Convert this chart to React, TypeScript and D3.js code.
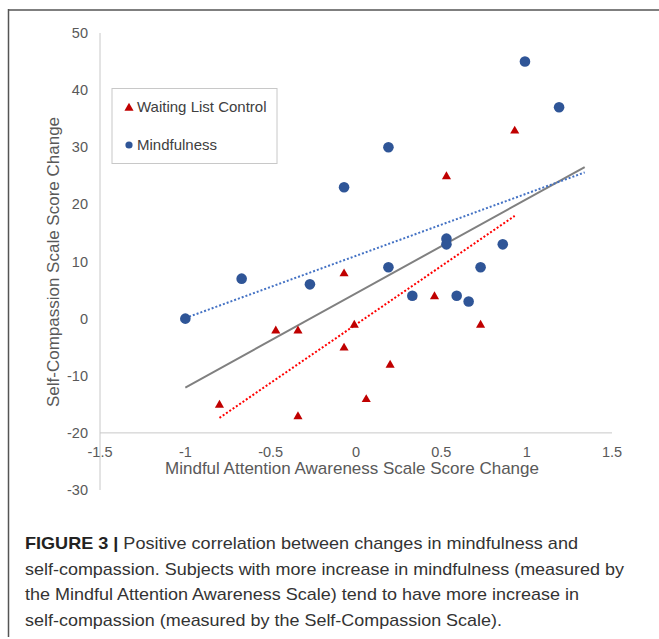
import React from "react";
import * as d3 from "d3";

// Waiting List Control (red triangles)
const controlX = [-0.8, -0.47, -0.34, -0.34, -0.07, -0.07, -0.01, 0.06, 0.2, 0.33, 0.46, 0.73, 0.53, 0.93];
const controlY = [-15, -2, -2, -17, 8, -5, -1, -14, -8, 4, 4, -1, 25, 33];

// Mindfulness (blue circles)
const mindX = [-1.0, -0.67, -0.27, -0.07, 0.19, 0.19, 0.33, 0.53, 0.53, 0.59, 0.66, 0.73, 0.86, 0.99, 1.19];
const mindY = [0, 7, 6, 23, 30, 9, 4, 14, 13, 4, 3, 9, 13, 45, 37];

const xTicks = [-1.5, -1, -0.5, 0, 0.5, 1, 1.5];
const yTicks = [50, 40, 30, 20, 10, 0, -10, -20, -30];

const legendLabels = ["Waiting List Control", "Mindfulness"];
const xTitle = "Mindful Attention Awareness Scale Score Change";
const yTitle = "Self-Compassion Scale Score Change";
const captionBold = "FIGURE 3 |";
const captionLines = [
  " Positive correlation between changes in mindfulness and",
  "self-compassion. Subjects with more increase in mindfulness (measured by",
  "the Mindful Attention Awareness Scale) tend to have more increase in",
  "self-compassion (measured by the Self-Compassion Scale).",
];

function regress(xs: number[], ys: number[]) {
  const mx = d3.mean(xs) as number;
  const my = d3.mean(ys) as number;
  let sxy = 0, sxx = 0;
  xs.forEach((x, i) => {
    sxy += (x - mx) * (ys[i] - my);
    sxx += (x - mx) * (x - mx);
  });
  const slope = sxy / sxx;
  return { slope, intercept: my - slope * mx };
}

export default function App() {
  const W = 659, H = 639;
  const x = d3.scaleLinear().domain([-1.5, 1.5]).range([100, 612]);
  const y = d3.scaleLinear().domain([-30, 50]).range([490, 33]);
  const font = "'Liberation Sans', Arial, Helvetica, sans-serif";
  const tickColor = "#595959";

  const allX = [...controlX, ...mindX];
  const allY = [...controlY, ...mindY];
  const forward = 0.15;

  const trend = (xs: number[], ys: number[], fwd: number) => {
    const r = regress(xs, ys);
    const x0 = d3.min(xs) as number;
    const x1 = (d3.max(xs) as number) + fwd;
    return d3.line<number>()
      .x((v) => x(v))
      .y((v) => y(r.intercept + r.slope * v))([x0, x1]) as string;
  };

  const tri = d3.symbol().type(d3.symbolTriangle).size(36)() as string;

  const captionWidths = [553, 599, 554, 477];

  return (
    <div style={{ position: "fixed", left: 0, top: 0 }}>
      <svg width={W} height={H} style={{ display: "block", background: "#fff" }}>
        {/* frame */}
        <line x1={8} x2={W} y1={10} y2={10} stroke="#555" strokeWidth={1.5} />
        <line x1={8.5} x2={8.5} y1={9} y2={637} stroke="#555" strokeWidth={1.5} />

        {/* axes */}
        <line x1={x(-1.5)} x2={x(-1.5)} y1={y(50)} y2={y(-30)} stroke="#C8C8C8" strokeWidth={1} />
        <line x1={x(-1.5)} x2={x(1.5)} y1={y(-20)} y2={y(-20)} stroke="#C8C8C8" strokeWidth={1} />

        {yTicks.map((t) => (
          <text key={"y" + t} x={88} y={y(t)} dy="0.35em" textAnchor="end"
            fontFamily={font} fontSize={14.5} fill={tickColor}>{t}</text>
        ))}
        {xTicks.map((t) => (
          <text key={"x" + t} x={x(t)} y={y(-20) + 19} dy="0.35em" textAnchor="middle"
            fontFamily={font} fontSize={14.5} fill={tickColor}>{t}</text>
        ))}

        <text x={352} y={474} textAnchor="middle" fontFamily={font} fontSize={17} fill={tickColor}>{xTitle}</text>
        <text transform={`translate(59,262) rotate(-90)`} textAnchor="middle" fontFamily={font}
          fontSize={17} fill={tickColor}>{yTitle}</text>

        {/* trend lines */}
        <path d={trend(allX, allY, forward)} fill="none" stroke="#808080" strokeWidth={2} />
        <path d={trend(mindX, mindY, forward)} fill="none" stroke="#4472C4" strokeWidth={2} strokeDasharray="2 2" />
        <path d={trend(controlX, controlY, 0)} fill="none" stroke="#FF0000" strokeWidth={2} strokeDasharray="2 2" />

        {/* markers */}
        {controlX.map((v, i) => (
          <path key={"c" + i} d={tri} transform={`translate(${x(v)},${y(controlY[i]) + 0.8})`} fill="#C00000" />
        ))}
        {mindX.map((v, i) => (
          <circle key={"m" + i} cx={x(v)} cy={y(mindY[i])} r={5.3} fill="#2F5597" />
        ))}

        {/* legend */}
        <rect x={112} y={88.5} width={165} height={75} fill="#fff" stroke="#C8C8C8" strokeWidth={1} />
        <path d={tri} transform="translate(129,108)" fill="#C00000" />
        <text x={137} y={107} dy="0.35em" fontFamily={font} fontSize={15} fill="#404040">{legendLabels[0]}</text>
        <circle cx={129} cy={145} r={3.6} fill="#2F5597" />
        <text x={137} y={145} dy="0.35em" fontFamily={font} fontSize={15} fill="#404040">{legendLabels[1]}</text>

        {/* caption */}
        {captionLines.map((ln, i) => (
          <text key={"cap" + i} x={25} y={549 + i * 25.5} fontFamily={font} fontSize={17}
            fill="#333" textLength={captionWidths[i]} lengthAdjust="spacingAndGlyphs">
            {i === 0 ? <tspan fontWeight="bold" fill="#222">{captionBold}</tspan> : null}
            {ln}
          </text>
        ))}
      </svg>
    </div>
  );
}
